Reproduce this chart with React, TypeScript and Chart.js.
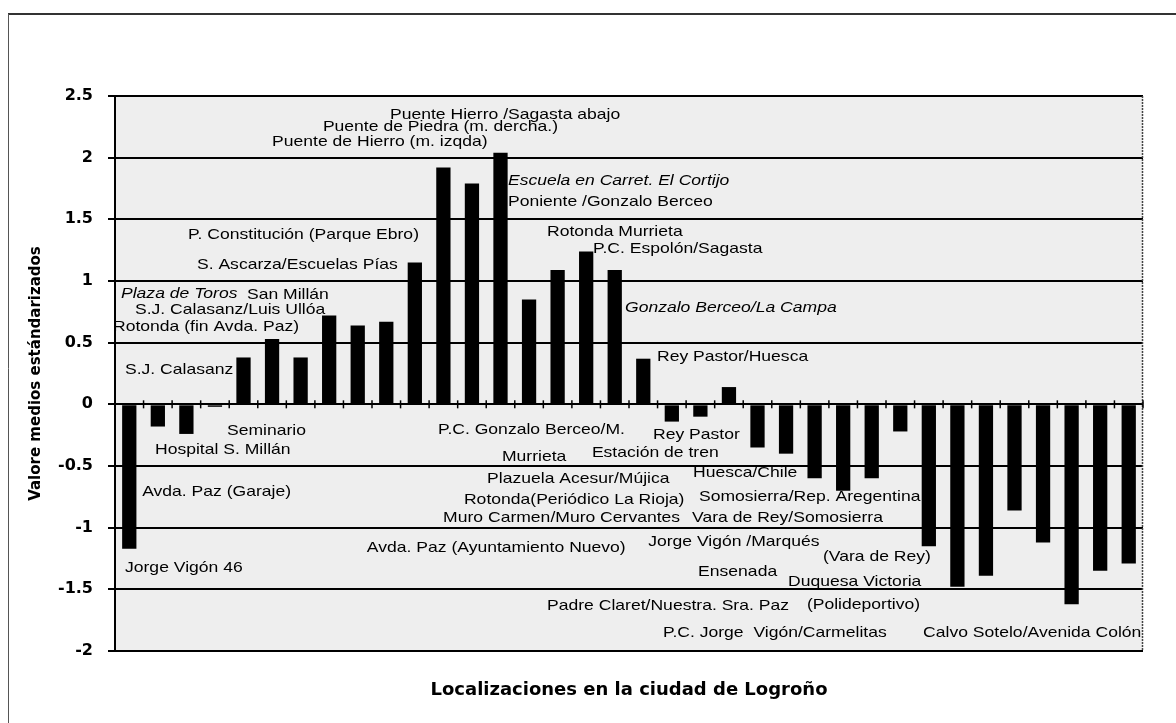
import { useEffect, useRef } from 'react';
import { Chart, registerables } from 'chart.js';

Chart.register(...registerables);

// ---- DATA ----
const categories = [
  '1', '2', '3', '4', '5', '6', '7', '8', '9', '10', '11', '12',
  '13', '14', '15', '16', '17', '18', '19', '20', '21', '22', '23', '24',
  '25', '26', '27', '28', '29', '30', '31', '32', '33', '34', '35', '36',
];

const values = [
  -1.17, -0.18, -0.24, -0.02, 0.38, 0.53, 0.38, 0.72, 0.64, 0.67, 1.15, 1.92,
  1.79, 2.04, 0.85, 1.09, 1.24, 1.09, 0.37, -0.14, -0.1, 0.14, -0.35, -0.4,
  -0.6, -0.7, -0.6, -0.22, -1.15, -1.48, -1.39, -0.86, -1.12, -1.62, -1.35, -1.29,
];

const yTickLabels = ['-2', '-1.5', '-1', '-0.5', '0', '0.5', '1', '1.5', '2', '2.5'];

const yAxisTitle = 'Valore medios estándarizados';
const xAxisTitle = 'Localizaciones en la ciudad de Logroño';

const annotationTexts = [
  'Puente Hierro /Sagasta abajo',
  'Puente de Piedra (m. dercha.)',
  'Puente de Hierro (m. izqda)',
  'P. Constitución (Parque Ebro)',
  'S. Ascarza/Escuelas Pías',
  'Plaza de Toros',
  'San Millán',
  'S.J. Calasanz/Luis Ullóa',
  'Rotonda (fin Avda. Paz)',
  'S.J. Calasanz',
  'Seminario',
  'Hospital S. Millán',
  'Avda. Paz (Garaje)',
  'Jorge Vigón 46',
  'Avda. Paz (Ayuntamiento Nuevo)',
  'Muro Carmen/Muro Cervantes',
  'P.C. Gonzalo Berceo/M.',
  'Murrieta',
  'Rey Pastor',
  'Estación de tren',
  'Plazuela Acesur/Mújica',
  'Rotonda(Periódico La Rioja)',
  'Huesca/Chile',
  'Somosierra/Rep. Aregentina',
  'Vara de Rey/Somosierra',
  'Jorge Vigón /Marqués',
  '(Vara de Rey)',
  'Ensenada',
  'Duquesa Victoria',
  'Padre Claret/Nuestra. Sra. Paz',
  '(Polideportivo)',
  'P.C. Jorge  Vigón/Carmelitas',
  'Calvo Sotelo/Avenida Colón',
  'Escuela en Carret. El Cortijo',
  'Poniente /Gonzalo Berceo',
  'Rotonda Murrieta',
  'P.C. Espolón/Sagasta',
  'Gonzalo Berceo/La Campa',
  'Rey Pastor/Huesca',
];

// anchor of each annotation (left edge) in data units: [category position, value]
const annotationAnchors: [number, number][] = [
  [9.13, 2.346], [6.78, 2.249], [5.0, 2.127], [2.06, 1.373], [2.37, 1.13],
  [-0.29, 0.9], [4.12, 0.886], [0.2, 0.765], [-0.57, 0.627], [-0.15, 0.278],
  [3.42, -0.217], [0.9, -0.371], [0.45, -0.711], [-0.15, -1.327], [8.32, -1.165],
  [10.99, -0.922], [10.81, -0.208], [13.05, -0.427], [18.34, -0.249], [16.2, -0.395],
  [12.53, -0.606], [11.72, -0.776], [19.74, -0.557], [19.95, -0.752], [19.71, -0.922],
  [18.17, -1.117], [24.29, -1.238], [19.92, -1.36], [23.07, -1.441], [14.63, -1.635],
  [23.73, -1.627], [18.69, -1.854], [27.8, -1.854], [13.26, 1.811], [13.26, 1.64],
  [14.63, 1.397], [16.24, 1.259], [17.36, 0.781], [18.48, 0.384],
];

const italicAnnotations = [
  'Plaza de Toros',
  'Escuela en Carret. El Cortijo',
  'Gonzalo Berceo/La Campa',
];

const chartPlugin = {
  id: 'logronoDecor',
  beforeDraw(chart: any) {
    const { ctx, chartArea: a } = chart;
    ctx.save();
    ctx.fillStyle = '#ffffff';
    ctx.fillRect(0, 0, chart.width, chart.height);
    ctx.fillStyle = '#eeeeee';
    ctx.fillRect(a.left, a.top, a.right - a.left, a.bottom - a.top);
    // outer frame
    ctx.strokeStyle = '#333333';
    ctx.lineWidth = 2;
    ctx.beginPath();
    ctx.moveTo(8, 14);
    ctx.lineTo(chart.width, 14);
    ctx.stroke();
    ctx.lineWidth = 1;
    ctx.strokeStyle = '#555555';
    ctx.beginPath();
    ctx.moveTo(8.5, 14);
    ctx.lineTo(8.5, chart.height);
    ctx.stroke();
    ctx.restore();
  },
  afterDatasetsDraw(chart: any) {
    const { ctx, chartArea: a } = chart;
    const xs = chart.scales.x;
    const ys = chart.scales.y;
    ctx.save();
    // right border
    ctx.strokeStyle = '#444444';
    ctx.lineWidth = 1.5;
    ctx.setLineDash([2, 1]);
    ctx.beginPath();
    ctx.moveTo(a.right - 0.5, a.top);
    ctx.lineTo(a.right - 0.5, a.bottom);
    ctx.stroke();
    ctx.setLineDash([]);
    // category ticks on zero line
    const y0 = ys.getPixelForValue(0);
    ctx.strokeStyle = '#000000';
    ctx.lineWidth = 1.5;
    for (let i = 0; i <= categories.length; i++) {
      const x = xs.getPixelForValue(i - 0.5);
      ctx.beginPath();
      ctx.moveTo(x, y0 - 4);
      ctx.lineTo(x, y0 + 4);
      ctx.stroke();
    }
    // annotations
    ctx.fillStyle = '#000000';
    ctx.textBaseline = 'middle';
    ctx.textAlign = 'left';
    annotationTexts.forEach((t, i) => {
      const [cx, vy] = annotationAnchors[i];
      const px = xs.getPixelForValue(cx);
      const py = ys.getPixelForValue(vy);
      const italic = italicAnnotations.includes(t);
      ctx.font = `${italic ? 'italic ' : ''}15px "Liberation Sans", Arial, sans-serif`;
      ctx.save();
      ctx.translate(px, py);
      ctx.scale(1.17, 1);
      ctx.fillText(t, 0, 0);
      ctx.restore();
    });
    ctx.restore();
  },
};

export default function App() {
  const canvasRef = useRef<HTMLCanvasElement | null>(null);

  useEffect(() => {
    if (!canvasRef.current) return;
    const chart = new Chart(canvasRef.current, {
      type: 'bar',
      data: {
        labels: categories,
        datasets: [
          {
            data: values,
            backgroundColor: '#000000',
            borderWidth: 0,
            barPercentage: 0.5,
            categoryPercentage: 1,
          },
        ],
      },
      options: {
        animation: false,
        responsive: false,
        layout: { padding: { left: 0, top: 96, right: 33, bottom: 0 } },
        plugins: {
          legend: { display: false },
          tooltip: { enabled: false },
          title: { display: false },
        },
        scales: {
          x: {
            type: 'category',
            grid: { display: false },
            border: { display: false },
            ticks: { display: false },
            title: {
              display: true,
              text: xAxisTitle,
              color: '#000000',
              font: { family: '"DejaVu Sans", sans-serif', size: 18, weight: 'bold' },
              padding: { top: 0, bottom: 22 },
            },
            afterFit: (scale: any) => {
              scale.height = 72;
            },
          },
          y: {
            min: -2,
            max: 2.5,
            ticks: {
              stepSize: 0.5,
              color: '#000000',
              padding: 15,
              font: { family: '"DejaVu Sans", sans-serif', size: 16, weight: 'bold' },
              callback: (v: any) => yTickLabels[Math.round((Number(v) + 2) / 0.5)],
            },
            grid: {
              color: '#000000',
              lineWidth: 2,
              tickLength: 7,
              drawTicks: true,
            },
            border: { display: true, color: '#000000', width: 2 },
            title: {
              display: true,
              text: yAxisTitle,
              color: '#000000',
              font: { family: '"DejaVu Sans", sans-serif', size: 15, weight: 'bold' },
              padding: { top: 27, bottom: 0 },
            },
            afterFit: (scale: any) => {
              scale.width = 115;
            },
          },
        },
      },
      plugins: [chartPlugin],
    });
    return () => chart.destroy();
  }, []);

  return (
    <div style={{ position: 'absolute', left: 0, top: 0, width: 1176, height: 723 }}>
      <canvas ref={canvasRef} width={1176} height={723} style={{ width: 1176, height: 723 }} />
    </div>
  );
}
